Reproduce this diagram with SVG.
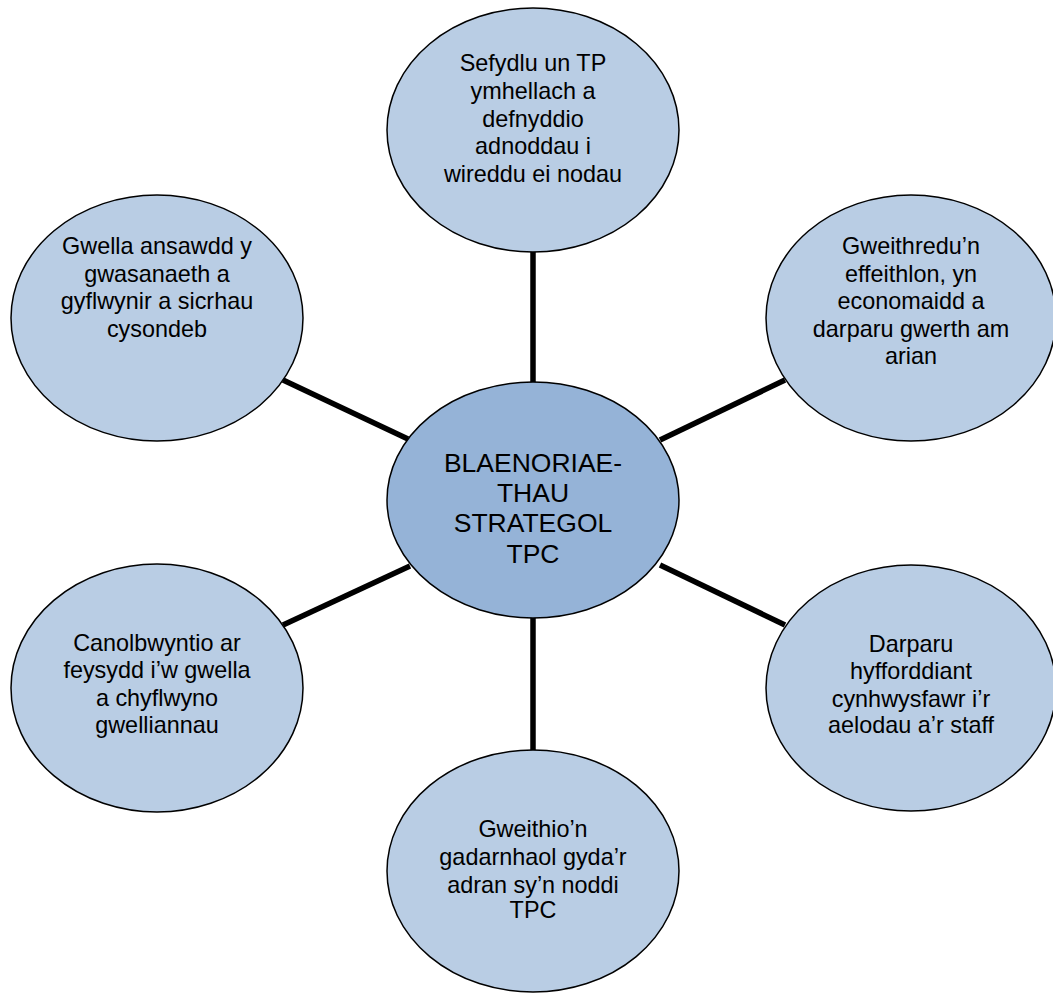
<svg xmlns="http://www.w3.org/2000/svg" width="1053" height="993" viewBox="0 0 1053 993">
<style>
.outer{fill:#b9cde4;stroke:#000;stroke-width:1.5}
.hub{fill:#95b3d7;stroke:#000;stroke-width:1.5}
.t{font-family:"Liberation Sans",Arial,sans-serif;font-size:23.4px;fill:#000;text-anchor:middle}
.th{font-family:"Liberation Sans",Arial,sans-serif;font-size:26.5px;fill:#000;text-anchor:middle}
.c{stroke:#000;stroke-width:5.5;fill:none}
</style>
<rect width="1053" height="993" fill="#fff"/>
<g id="connectors">
<line class="c" x1="533" y1="252" x2="533" y2="384"/>
<line class="c" x1="533" y1="616" x2="533" y2="750"/>
<line class="c" x1="283" y1="380" x2="408" y2="439"/>
<line class="c" x1="785" y1="380" x2="660" y2="440"/>
<line class="c" x1="283" y1="625" x2="410" y2="566"/>
<line class="c" x1="660" y1="565" x2="785" y2="625"/>
</g>
<g id="node-top">
<ellipse class="outer" cx="533" cy="130" rx="146" ry="122"/>
<text class="t" x="533"><tspan x="533" y="71">Sefydlu un TP</tspan><tspan x="533" y="99">ymhellach a</tspan><tspan x="533" y="127">defnyddio</tspan><tspan x="533" y="154">adnoddau i</tspan><tspan x="533" y="182">wireddu ei nodau</tspan></text>
</g>
<g id="node-upper-left">
<ellipse class="outer" cx="157" cy="318" rx="146" ry="123"/>
<text class="t"><tspan x="157" y="254">Gwella ansawdd y</tspan><tspan x="157" y="282">gwasanaeth a</tspan><tspan x="157" y="309">gyflwynir a sicrhau</tspan><tspan x="157" y="337">cysondeb</tspan></text>
</g>
<g id="node-upper-right">
<ellipse class="outer" cx="911" cy="318" rx="145" ry="123"/>
<text class="t"><tspan x="911" y="254">Gweithredu’n</tspan><tspan x="911" y="282">effeithlon, yn</tspan><tspan x="911" y="309">economaidd a</tspan><tspan x="911" y="337">darparu gwerth am</tspan><tspan x="911" y="364">arian</tspan></text>
</g>
<g id="node-center">
<ellipse class="hub" cx="533" cy="500" rx="146" ry="118"/>
<text class="th"><tspan x="533" y="472">BLAENORIAE-</tspan><tspan x="533" y="502">THAU</tspan><tspan x="533" y="532">STRATEGOL</tspan><tspan x="533" y="563">TPC</tspan></text>
</g>
<g id="node-lower-left">
<ellipse class="outer" cx="157" cy="688" rx="146" ry="124"/>
<text class="t"><tspan x="157" y="651">Canolbwyntio ar</tspan><tspan x="157" y="678">feysydd i’w gwella</tspan><tspan x="157" y="706">a chyflwyno</tspan><tspan x="157" y="733">gwelliannau</tspan></text>
</g>
<g id="node-lower-right">
<ellipse class="outer" cx="911" cy="688" rx="145" ry="123"/>
<text class="t"><tspan x="911" y="652">Darparu</tspan><tspan x="911" y="679">hyfforddiant</tspan><tspan x="911" y="707">cynhwysfawr i’r</tspan><tspan x="911" y="733">aelodau a’r staff</tspan></text>
</g>
<g id="node-bottom">
<ellipse class="outer" cx="533" cy="871" rx="146" ry="121"/>
<text class="t"><tspan x="533" y="837">Gweithio’n</tspan><tspan x="533" y="865">gadarnhaol gyda’r</tspan><tspan x="533" y="893">adran sy’n noddi</tspan><tspan x="533" y="918">TPC</tspan></text>
</g>
</svg>
